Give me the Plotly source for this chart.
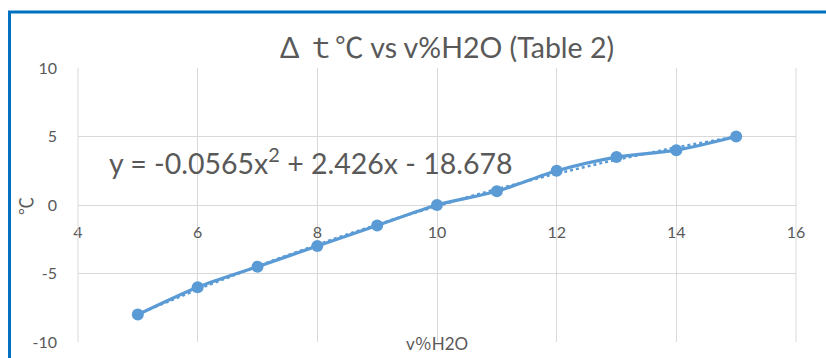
import numpy as np
import plotly.graph_objects as go

# ---- data ----
x_vals = [5, 6, 7, 8, 9, 10, 11, 12, 13, 14, 15]
y_vals = [-8, -6, -4.5, -3, -1.5, 0, 1, 2.5, 3.5, 4, 5]
x_ticks = [4, 6, 8, 10, 12, 14, 16]
y_ticks = [-10, -5, 0, 5, 10]
y_tick_labels = ["-10", "-5", "0", "5", "10"]
title_text = "Δ ｔ℃ vs v%H2O (Table 2)"
x_title = "v％H2O"
y_title = "℃"
equation_text = "y = -0.0565x<sup>2</sup> + 2.426x - 18.678"

BLUE = "#5B9BD5"
GRAY = "#595959"
GRID = "#D9D9D9"
FONT = "Lato, 'Noto Sans CJK JP', sans-serif"

# polynomial trendline (order 2) fitted to the data
coef = np.polyfit(x_vals, y_vals, 2)
xt = np.linspace(min(x_vals), max(x_vals), 101)
yt = np.polyval(coef, xt)

fig = go.Figure()
fig.add_trace(go.Scatter(x=xt, y=yt, mode="lines",
                         line=dict(color=BLUE, width=2.5, dash="dot"),
                         hoverinfo="skip", showlegend=False))
fig.add_trace(go.Scatter(x=x_vals, y=y_vals, mode="lines+markers",
                         line=dict(color=BLUE, width=3.2, shape="spline", smoothing=0.8),
                         marker=dict(color=BLUE, size=12),
                         showlegend=False))

L, R, T, B = 78, 30, 68, 16
W, H = 826, 358
pw, ph = W - L - R, H - T - B

def px(xpix):
    return (xpix - L) / pw

def py(ypix):
    return (H - B - ypix) / ph

fig.update_layout(
    width=W, height=H,
    margin=dict(l=L, r=R, t=T, b=B, pad=0, autoexpand=False),
    paper_bgcolor="white", plot_bgcolor="white",
    font=dict(family=FONT, color=GRAY, size=16),
    xaxis=dict(range=[4, 16], tickvals=x_ticks, showgrid=True, gridcolor=GRID,
               gridwidth=1, zeroline=False, showline=False, automargin=False,
               anchor="free", position=0.5, ticks="", ticklabelstandoff=16,
               tickfont=dict(size=16, color=GRAY, family=FONT)),
    yaxis=dict(range=[-10, 10], tickvals=y_ticks, ticktext=y_tick_labels,
               showgrid=True, gridcolor=GRID, automargin=False,
               gridwidth=1, zeroline=False, showline=False, ticks="",
               ticklabelstandoff=20,
               tickfont=dict(size=16, color=GRAY, family=FONT)),
    shapes=[
        dict(type="line", xref="paper", yref="paper", x0=0, x1=0,
             y0=0, y1=1, line=dict(color=GRID, width=1)),
        dict(type="line", xref="paper", yref="paper", x0=1, x1=1,
             y0=0, y1=1, line=dict(color=GRID, width=1)),
        dict(type="rect", xref="paper", yref="paper",
             x0=px(9.5), x1=px(900), y0=py(420), y1=py(12),
             line=dict(color="#0070C0", width=3), fillcolor="rgba(0,0,0,0)"),
    ],
    annotations=[
        dict(text=title_text, xref="paper", yref="paper", x=px(447), y=py(47),
             xanchor="center", yanchor="middle", showarrow=False,
             font=dict(size=28.5, color=GRAY, family=FONT)),
        dict(text=equation_text, xref="paper", yref="paper", x=px(107), y=py(161),
             xanchor="left", yanchor="middle", showarrow=False,
             font=dict(size=28.5, color=GRAY, family=FONT)),
        dict(text=x_title, xref="paper", yref="paper", x=px(437), y=py(343),
             xanchor="center", yanchor="middle", showarrow=False,
             font=dict(size=17, color=GRAY, family=FONT)),
        dict(text=y_title, xref="paper", yref="paper", x=px(26), y=py(206),
             xanchor="center", yanchor="middle", showarrow=False, textangle=-90,
             font=dict(size=18, color=GRAY, family=FONT)),
    ],
)

fig.write_html("out.html")
